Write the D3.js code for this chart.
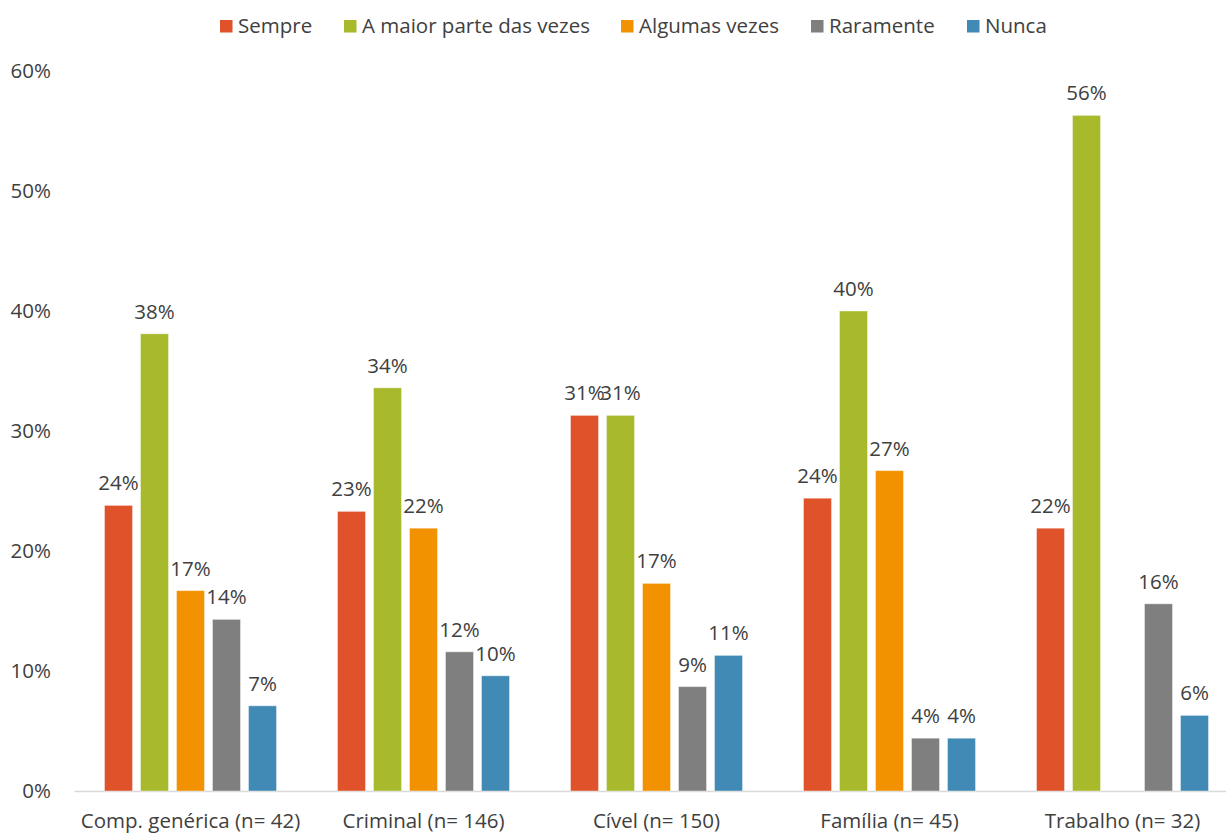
<!DOCTYPE html>
<html>
<head>
<meta charset="utf-8">
<script src="https://cdn.jsdelivr.net/npm/d3@7"></script>
<style>
  html, body { margin: 0; padding: 0; background: #fff; }
  svg { display: block; font-family: "Open Sans", "Segoe UI", sans-serif; }
</style>
</head>
<body>
<svg id="chart" width="1226" height="834"></svg>
<script>
// Categories (with sample sizes) and response shares, in percent
const categories = ["Comp. genérica (n= 42)", "Criminal (n= 146)", "Cível (n= 150)", "Família (n= 45)", "Trabalho (n= 32)"];
const seriesNames = ["Sempre", "A maior parte das vezes", "Algumas vezes", "Raramente", "Nunca"];
const seriesColors = ["#E0532A", "#A8B92B", "#F39200", "#7F7F7F", "#418AB5"];

const sempre        = [23.8, 23.3, 31.3, 24.4, 21.9];
const maiorParte    = [38.1, 33.6, 31.3, 40.0, 56.3];
const algumasVezes  = [16.7, 21.9, 17.3, 26.7, 0];
const raramente     = [14.3, 11.6, 8.7, 4.4, 15.6];
const nunca         = [7.1, 9.6, 11.3, 4.4, 6.3];

const yTicks = [0, 10, 20, 30, 40, 50, 60];

const seriesValues = [sempre, maiorParte, algumasVezes, raramente, nunca];

const svg = d3.select("#chart");
const textColor = "#404040";
const fontSize = "20.5px";

const x0 = d3.scaleBand().domain(categories).range([74, 1239]).paddingInner(0).paddingOuter(0);
const groupWidth = 172;
const x1 = d3.scaleBand().domain(seriesNames).range([0, groupWidth]).paddingInner(0.222).paddingOuter(0);
const y = d3.scaleLinear().domain([0, 60]).range([791, 71]);

// Y axis labels (no axis line or ticks)
const yAxis = d3.axisLeft(y).tickValues(yTicks).tickFormat(d => d + "%").tickSize(0).tickPadding(0);
const yG = svg.append("g").attr("transform", "translate(51,0)").call(yAxis);
yG.select(".domain").remove();
yG.selectAll("text").attr("fill", textColor).style("font-size", fontSize).style("font-family", "\"Open Sans\", sans-serif");

// Category axis with a light baseline
const xAxis = d3.axisBottom(x0).tickSize(0).tickPadding(22);
const xG = svg.append("g").attr("transform", "translate(0,791)").call(xAxis);
xG.select(".domain").attr("stroke", "#D9D9D9").attr("stroke-width", 1.5);
xG.selectAll("text").attr("fill", textColor).style("font-size", fontSize).style("font-family", "\"Open Sans\", sans-serif");

// Bars with value labels
const groups = svg.append("g").selectAll("g")
  .data(categories)
  .join("g")
  .attr("transform", d => `translate(${x0(d) + (x0.bandwidth() - groupWidth) / 2},0)`);

groups.each(function (cat, ci) {
  const g = d3.select(this);
  const rows = seriesNames.map((s, si) => ({ s, si, v: seriesValues[si][ci] }));
  g.selectAll("rect")
    .data(rows.filter(r => r.v > 0))
    .join("rect")
    .attr("x", r => x1(r.s))
    .attr("y", r => y(r.v))
    .attr("width", x1.bandwidth())
    .attr("height", r => y(0) - y(r.v))
    .attr("fill", r => seriesColors[r.si])
    .attr("stroke", "#ffffff")
    .attr("stroke-opacity", 0.4)
    .attr("stroke-width", 1);
  g.selectAll("text.val")
    .data(rows.filter(r => r.v > 0))
    .join("text")
    .attr("class", "val")
    .attr("x", r => x1(r.s) + x1.bandwidth() / 2)
    .attr("y", r => y(r.v) - 15)
    .attr("text-anchor", "middle")
    .attr("fill", textColor)
    .style("font-size", fontSize)
    .text(r => Math.round(r.v) + "%");
});

// Legend
const legendX = [220, 344, 621, 811, 967];
const legend = svg.append("g").selectAll("g")
  .data(seriesNames)
  .join("g")
  .attr("transform", (d, i) => `translate(${legendX[i]},20)`);
legend.append("rect").attr("width", 12.5).attr("height", 12.5).attr("fill", (d, i) => seriesColors[i]);
legend.append("text")
  .attr("x", 18).attr("y", 12.5)
  .attr("fill", textColor)
  .style("font-size", fontSize)
  .text(d => d);
</script>
</body>
</html>
